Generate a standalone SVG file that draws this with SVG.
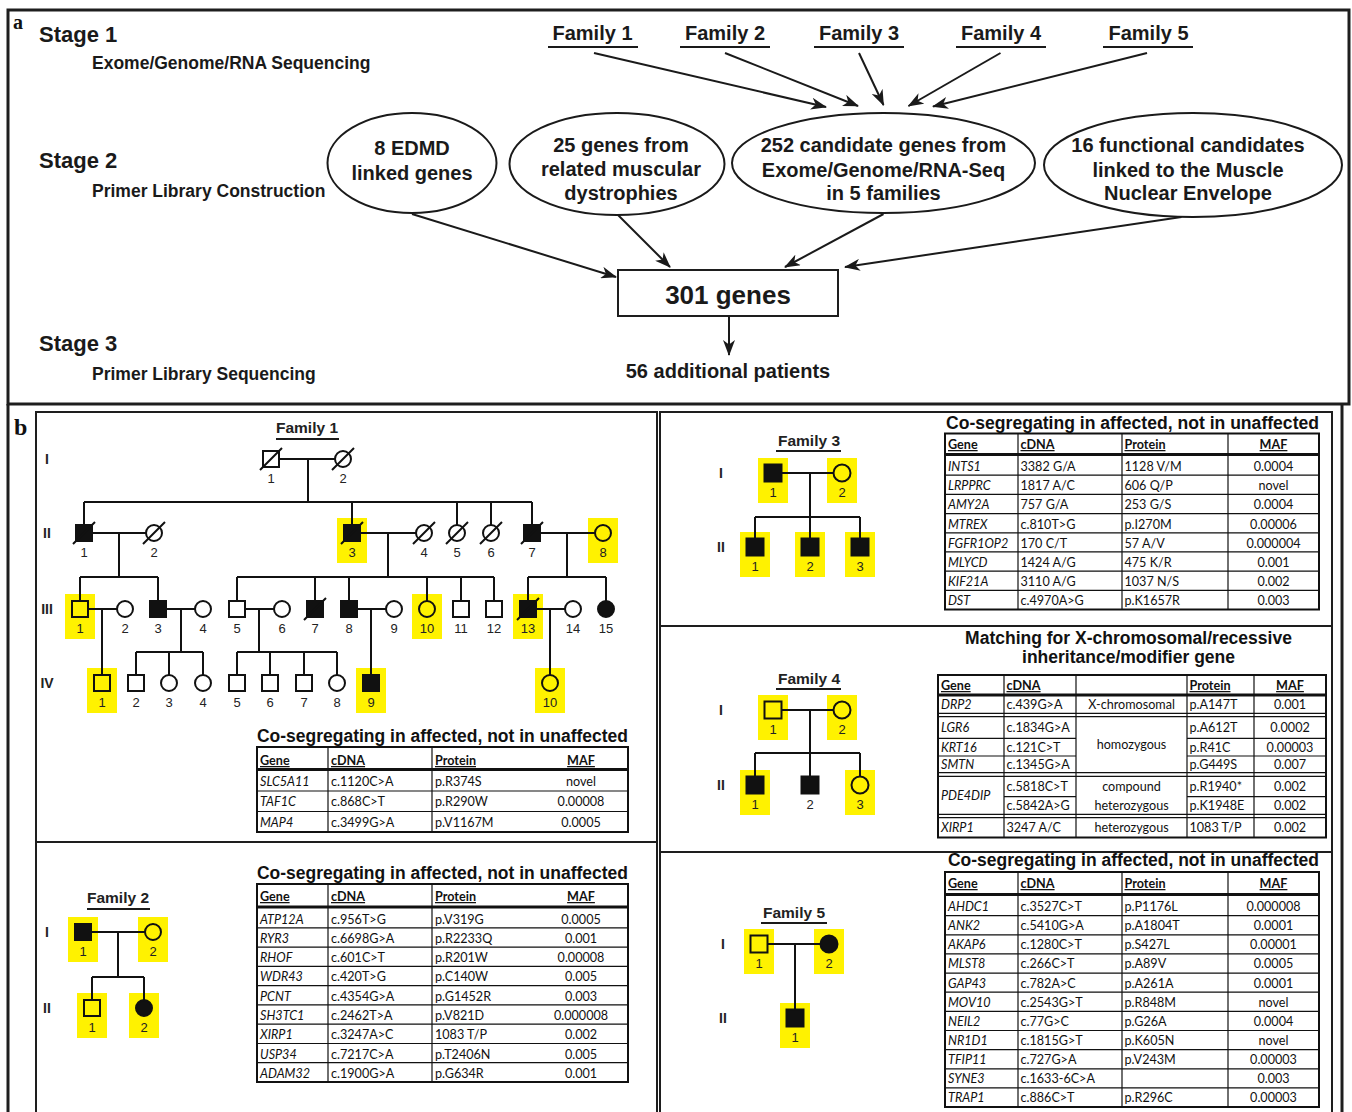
<svg xmlns="http://www.w3.org/2000/svg" width="1352" height="1112" viewBox="0 0 1352 1112">
<defs>
<style>
.frame{fill:none;stroke:#1e1e1e;stroke-width:3}
.box{fill:none;stroke:#1e1e1e;stroke-width:2}
.hd{font-family:"Liberation Sans",Arial,sans-serif;font-weight:bold;fill:#1a1a1a}
.ell{fill:#fff;stroke:#1a1a1a;stroke-width:2}
.arr{stroke:#1a1a1a;stroke-width:2;fill:none;marker-end:url(#ah)}
.ul{stroke:#1a1a1a;stroke-width:2}
.pl{stroke:#111;stroke-width:2;fill:none}
.sym{stroke:#111;stroke-width:2;fill:none}
.aff{stroke:#111;stroke-width:2;fill:#111}
.hl{fill:#FFF200}
.num{font-family:"Liberation Sans",Arial,sans-serif;font-size:13px;text-anchor:middle;fill:#222}
.gen{font-family:"Liberation Sans",Arial,sans-serif;font-weight:bold;font-size:14px;text-anchor:middle;fill:#222}
.fam{font-family:"Liberation Sans",Arial,sans-serif;font-weight:bold;font-size:15.5px;text-anchor:middle;fill:#222}
.ttl{font-family:"Liberation Sans",Arial,sans-serif;font-weight:bold;font-size:17.5px;fill:#111}
.tb{fill:none;stroke:#111;stroke-width:2}
.tl{stroke:#111;stroke-width:1.2;fill:none}
.tt{stroke:#111;stroke-width:3;fill:none}
.td{font-family:Lato,"Liberation Sans",sans-serif;font-size:12.6px;fill:#111}
.gi{font-style:italic}
.th{font-family:Lato,"Liberation Sans",sans-serif;font-size:12.6px;font-weight:bold;text-decoration:underline;fill:#111}
.c{text-anchor:middle}
</style>
<marker id="ah" viewBox="0 0 16 12" refX="15" refY="6" markerWidth="16" markerHeight="12" markerUnits="userSpaceOnUse" orient="auto"><path d="M0,0 L16,6 L0,12 L4.5,6 z" fill="#1a1a1a"/></marker>
</defs>
<rect width="1352" height="1112" fill="#fff"/>

<!-- ===== Panel a ===== -->
<g id="panel-a">
<rect class="frame" x="8" y="10" width="1341" height="394"/>
<text x="13" y="29" font-family="Liberation Serif,serif" font-weight="bold" font-size="20" fill="#111">a</text>
<text class="hd" x="39" y="41.5" font-size="22">Stage 1</text>
<text class="hd" x="92" y="69" font-size="17.5">Exome/Genome/RNA Sequencing</text>
<text class="hd" x="39" y="168" font-size="22">Stage 2</text>
<text class="hd" x="92" y="197" font-size="17.5">Primer Library Construction</text>
<text class="hd" x="39" y="351" font-size="22">Stage 3</text>
<text class="hd" x="92" y="380" font-size="17.5">Primer Library Sequencing</text>
</g>

<g id="a-family1"><text class="hd" x="592.5" y="40" font-size="20" text-anchor="middle">Family 1</text><line class="ul" x1="548" y1="47" x2="638" y2="47"/></g>
<g id="a-family2"><text class="hd" x="725" y="40" font-size="20" text-anchor="middle">Family 2</text><line class="ul" x1="680" y1="47" x2="770" y2="47"/></g>
<g id="a-family3"><text class="hd" x="859" y="40" font-size="20" text-anchor="middle">Family 3</text><line class="ul" x1="814" y1="47" x2="904" y2="47"/></g>
<g id="a-family4"><text class="hd" x="1001" y="40" font-size="20" text-anchor="middle">Family 4</text><line class="ul" x1="956" y1="47" x2="1046" y2="47"/></g>
<g id="a-family5"><text class="hd" x="1148.5" y="40" font-size="20" text-anchor="middle">Family 5</text><line class="ul" x1="1103" y1="47" x2="1193" y2="47"/></g>

<g id="a-edmd"><ellipse class="ell" cx="412" cy="163" rx="84.5" ry="50"/>
<text class="hd" font-size="20" text-anchor="middle"><tspan x="412" y="155">8 EDMD</tspan><tspan x="412" y="180">linked genes</tspan></text></g>
<g id="a-related"><ellipse class="ell" cx="617" cy="164" rx="107.5" ry="51"/>
<text class="hd" font-size="20" text-anchor="middle"><tspan x="621" y="152">25 genes from</tspan><tspan x="621" y="176">related muscular</tspan><tspan x="621" y="200">dystrophies</tspan></text></g>
<g id="a-candidates"><ellipse class="ell" cx="883.5" cy="163" rx="151.5" ry="50"/>
<text class="hd" font-size="20" text-anchor="middle"><tspan x="883.5" y="152">252 candidate genes from</tspan><tspan x="883.5" y="177">Exome/Genome/RNA-Seq</tspan><tspan x="883.5" y="200">in 5 families</tspan></text></g>
<g id="a-functional"><ellipse class="ell" cx="1193" cy="165" rx="149" ry="52"/>
<text class="hd" font-size="20" text-anchor="middle"><tspan x="1188" y="152">16 functional candidates</tspan><tspan x="1188" y="177">linked to the Muscle</tspan><tspan x="1188" y="200">Nuclear Envelope</tspan></text></g>
<g id="a-301"><rect class="box" x="618" y="270" width="220" height="46" fill="#fff"/>
<text class="hd" x="728" y="304" font-size="26" text-anchor="middle">301 genes</text></g>
<g id="a-patients"><text class="hd" x="728" y="378" font-size="20" text-anchor="middle">56 additional patients</text></g>

<g id="a-connectors">
<line class="arr" x1="594" y1="53" x2="826" y2="107"/>
<line class="arr" x1="725" y1="53" x2="858" y2="106"/>
<line class="arr" x1="859" y1="53" x2="883.5" y2="105"/>
<line class="arr" x1="1000.5" y1="53" x2="908.5" y2="106"/>
<line class="arr" x1="1147" y1="53" x2="933" y2="106.5"/>
<line class="arr" x1="412" y1="214" x2="616" y2="277"/>
<line class="arr" x1="618" y1="215" x2="670" y2="267"/>
<line class="arr" x1="883.5" y1="214" x2="785" y2="267"/>
<line class="arr" x1="1181.5" y1="217" x2="845" y2="267"/>
<line class="arr" x1="729" y1="316" x2="729" y2="355"/>
</g>

<!-- ===== Panel b ===== -->
<g id="panel-b">
<path class="frame" d="M8,404 V1114 M1342,404 V1114"/>
<text x="14" y="435" font-family="Liberation Serif,serif" font-weight="bold" font-size="24" fill="#111">b</text>
<rect class="box" x="36" y="412" width="621" height="430"/>
<rect class="box" x="36" y="842" width="621" height="272"/>
<rect class="box" x="660" y="412" width="672" height="214"/>
<rect class="box" x="660" y="626" width="672" height="226"/>
<rect class="box" x="660" y="852" width="672" height="262"/>
</g>

<!-- Family 1 pedigree -->
<g id="family1">
<text class="fam" x="307" y="433">Family 1</text><line class="ul" x1="276" y1="439" x2="339" y2="439"/>
<text class="gen" x="47" y="464">I</text><text class="gen" x="47" y="538">II</text><text class="gen" x="47" y="614">III</text><text class="gen" x="47" y="688">IV</text>
<g class="hl">
<rect x="337" y="518" width="30" height="45"/><rect x="588" y="518" width="30" height="45"/>
<rect x="65" y="594" width="30" height="45"/><rect x="412" y="594" width="30" height="45"/><rect x="513" y="594" width="30" height="45"/>
<rect x="87" y="668" width="30" height="45"/><rect x="356" y="668" width="30" height="45"/><rect x="535" y="668" width="30" height="45"/>
</g>
<path class="pl" d="M279,459 H335 M308,459 V502 M84,502 H532 M84,502 V525 M352,502 V525 M457,502 V525 M491,502 V525 M532,502 V525
M92,533 H146 M119,533 V577 M80,577 H158 M80,577 V601 M158,577 V601
M360,533 H416 M388,533 V577 M237,577 H494 M237,577 V601 M315,577 V601 M349,577 V601 M427,577 V601 M461,577 V601 M494,577 V601
M540,533 H595 M567,533 V577 M528,577 H606 M528,577 V601 M606,577 V601
M88,609 H117 M102,609 V675
M166,609 H195 M181,609 V652 M136,652 H203 M136,652 V675 M169,652 V675 M203,652 V675
M245,609 H274 M259,609 V652 M237,652 H337 M237,652 V675 M270,652 V675 M304,652 V675 M337,652 V675
M357,609 H386 M371,609 V675
M536,609 H565 M550,609 V675"/>
<rect class="sym" x="263" y="451" width="16" height="16"/><circle class="sym" cx="343" cy="459" r="8"/>
<rect class="aff" x="76" y="525" width="16" height="16"/><circle class="sym" cx="154" cy="533" r="8"/>
<rect class="aff" x="344" y="525" width="16" height="16"/><circle class="sym" cx="424" cy="533" r="8"/><circle class="sym" cx="457" cy="533" r="8"/><circle class="sym" cx="491" cy="533" r="8"/>
<rect class="aff" x="524" y="525" width="16" height="16"/><circle class="sym" cx="603" cy="533" r="8"/>
<rect class="sym" x="72" y="601" width="16" height="16"/><circle class="sym" cx="125" cy="609" r="8"/>
<rect class="aff" x="150" y="601" width="16" height="16"/><circle class="sym" cx="203" cy="609" r="8"/>
<rect class="sym" x="229" y="601" width="16" height="16"/><circle class="sym" cx="282" cy="609" r="8"/>
<rect class="aff" x="307" y="601" width="16" height="16"/><rect class="aff" x="341" y="601" width="16" height="16"/><circle class="sym" cx="394" cy="609" r="8"/>
<circle class="sym" cx="427" cy="609" r="8"/><rect class="sym" x="453" y="601" width="16" height="16"/><rect class="sym" x="486" y="601" width="16" height="16"/>
<rect class="aff" x="520" y="601" width="16" height="16"/><circle class="sym" cx="573" cy="609" r="8"/><circle class="aff" cx="606" cy="609" r="8"/>
<rect class="sym" x="94" y="675" width="16" height="16"/><rect class="sym" x="128" y="675" width="16" height="16"/><circle class="sym" cx="169" cy="683" r="8"/><circle class="sym" cx="203" cy="683" r="8"/>
<rect class="sym" x="229" y="675" width="16" height="16"/><rect class="sym" x="262" y="675" width="16" height="16"/><rect class="sym" x="296" y="675" width="16" height="16"/><circle class="sym" cx="337" cy="683" r="8"/>
<rect class="aff" x="363" y="675" width="16" height="16"/><circle class="sym" cx="550" cy="683" r="8"/>
<path class="pl" d="M260,470 L282,448 M332,470 L354,448 M73,544 L95,522 M143,544 L165,522 M341,544 L363,522 M413,544 L435,522 M446,544 L468,522 M480,544 L502,522 M521,544 L543,522 M304,620 L326,598 M517,620 L539,598"/>
<g class="num">
<text x="271" y="483">1</text><text x="343" y="483">2</text>
<text x="84" y="557">1</text><text x="154" y="557">2</text><text x="352" y="557">3</text><text x="424" y="557">4</text><text x="457" y="557">5</text><text x="491" y="557">6</text><text x="532" y="557">7</text><text x="603" y="557">8</text>
<text x="80" y="633">1</text><text x="125" y="633">2</text><text x="158" y="633">3</text><text x="203" y="633">4</text><text x="237" y="633">5</text><text x="282" y="633">6</text><text x="315" y="633">7</text><text x="349" y="633">8</text><text x="394" y="633">9</text><text x="427" y="633">10</text><text x="461" y="633">11</text><text x="494" y="633">12</text><text x="528" y="633">13</text><text x="573" y="633">14</text><text x="606" y="633">15</text>
<text x="102" y="707">1</text><text x="136" y="707">2</text><text x="169" y="707">3</text><text x="203" y="707">4</text><text x="237" y="707">5</text><text x="270" y="707">6</text><text x="304" y="707">7</text><text x="337" y="707">8</text><text x="371" y="707">9</text><text x="550" y="707">10</text>
</g>
</g>

<g id="table1">
<text class="ttl" x="257" y="742" textLength="371" lengthAdjust="spacingAndGlyphs">Co-segregating in affected, not in unaffected</text>
<rect class="tb" x="257" y="747" width="371" height="85"/>
<path class="tt" d="M257,769.5 H628"/>
<path class="tl" d="M257,791 H628 M257,811.5 H628 M328,747 V832 M432,747 V832"/>
<text class="th" x="260" y="765">Gene</text><text class="th" x="331" y="765">cDNA</text><text class="th" x="435" y="765">Protein</text><text class="th c" x="581" y="765">MAF</text>
<g class="td">
<text class="gi" x="260" y="785.5">SLC5A11</text><text x="331" y="785.5">c.1120C&gt;A</text><text x="435" y="785.5">p.R374S</text><text class="c" x="581" y="785.5">novel</text>
<text class="gi" x="260" y="806">TAF1C</text><text x="331" y="806">c.868C&gt;T</text><text x="435" y="806">p.R290W</text><text class="c" x="581" y="806">0.00008</text>
<text class="gi" x="260" y="826.5">MAP4</text><text x="331" y="826.5">c.3499G&gt;A</text><text x="435" y="826.5">p.V1167M</text><text class="c" x="581" y="826.5">0.0005</text>
</g>
</g>

<!-- Family 2 -->
<g id="family2">
<text class="fam" x="118" y="903">Family 2</text><line class="ul" x1="87" y1="909" x2="150" y2="909"/>
<text class="gen" x="47" y="937">I</text><text class="gen" x="47" y="1013">II</text>
<g class="hl"><rect x="68" y="917" width="30" height="45"/><rect x="138" y="917" width="30" height="45"/><rect x="77" y="993" width="30" height="45"/><rect x="129" y="993" width="30" height="45"/></g>
<path class="pl" d="M91,932 H145 M118,932 V977 M92,977 H144 M92,977 V1000 M144,977 V1000"/>
<rect class="aff" x="75" y="924" width="16" height="16"/><circle class="sym" cx="153" cy="932" r="8"/>
<rect class="sym" x="84" y="1000" width="16" height="16"/><circle class="aff" cx="144" cy="1008" r="8"/>
<g class="num"><text x="83" y="956">1</text><text x="153" y="956">2</text><text x="92" y="1032">1</text><text x="144" y="1032">2</text></g>
</g>

<g id="table2">
<text class="ttl" x="257" y="879" textLength="371" lengthAdjust="spacingAndGlyphs">Co-segregating in affected, not in unaffected</text>
<rect class="tb" x="257" y="884" width="371" height="198"/>
<path class="tt" d="M257,907 H628"/>
<path class="tl" d="M257,927.8 H628 M257,947.1 H628 M257,966.3 H628 M257,985.6 H628 M257,1004.9 H628 M257,1024.2 H628 M257,1043.5 H628 M257,1062.7 H628 M328,884 V1082 M432,884 V1082"/>
<text class="th" x="260" y="901">Gene</text><text class="th" x="331" y="901">cDNA</text><text class="th" x="435" y="901">Protein</text><text class="th c" x="581" y="901">MAF</text>
<g class="td">
<text class="gi" x="260" y="923.5">ATP12A</text><text x="331" y="923.5">c.956T&gt;G</text><text x="435" y="923.5">p.V319G</text><text class="c" x="581" y="923.5">0.0005</text>
<text class="gi" x="260" y="942.8">RYR3</text><text x="331" y="942.8">c.6698G&gt;A</text><text x="435" y="942.8">p.R2233Q</text><text class="c" x="581" y="942.8">0.001</text>
<text class="gi" x="260" y="962.1">RHOF</text><text x="331" y="962.1">c.601C&gt;T</text><text x="435" y="962.1">p.R201W</text><text class="c" x="581" y="962.1">0.00008</text>
<text class="gi" x="260" y="981.3">WDR43</text><text x="331" y="981.3">c.420T&gt;G</text><text x="435" y="981.3">p.C140W</text><text class="c" x="581" y="981.3">0.005</text>
<text class="gi" x="260" y="1000.6">PCNT</text><text x="331" y="1000.6">c.4354G&gt;A</text><text x="435" y="1000.6">p.G1452R</text><text class="c" x="581" y="1000.6">0.003</text>
<text class="gi" x="260" y="1019.9">SH3TC1</text><text x="331" y="1019.9">c.2462T&gt;A</text><text x="435" y="1019.9">p.V821D</text><text class="c" x="581" y="1019.9">0.000008</text>
<text class="gi" x="260" y="1039.2">XIRP1</text><text x="331" y="1039.2">c.3247A&gt;C</text><text x="435" y="1039.2">1083 T/P</text><text class="c" x="581" y="1039.2">0.002</text>
<text class="gi" x="260" y="1058.5">USP34</text><text x="331" y="1058.5">c.7217C&gt;A</text><text x="435" y="1058.5">p.T2406N</text><text class="c" x="581" y="1058.5">0.005</text>
<text class="gi" x="260" y="1077.7">ADAM32</text><text x="331" y="1077.7">c.1900G&gt;A</text><text x="435" y="1077.7">p.G634R</text><text class="c" x="581" y="1077.7">0.001</text>
</g>
</g>

<!-- Family 3 -->
<g id="family3">
<text class="fam" x="809" y="446">Family 3</text><line class="ul" x1="776" y1="451" x2="841" y2="451"/>
<text class="gen" x="721" y="478">I</text><text class="gen" x="721" y="552">II</text>
<g class="hl"><rect x="758" y="458" width="30" height="45"/><rect x="827" y="458" width="30" height="45"/><rect x="740" y="532" width="30" height="45"/><rect x="795" y="532" width="30" height="45"/><rect x="845" y="532" width="30" height="45"/></g>
<path class="pl" d="M781.5,473 H833.5 M810,473 V517 M755,517 H860 M755,517 V538.5 M810,517 V538.5 M860,517 V538.5"/>
<rect class="aff" x="764.5" y="464.5" width="17" height="17"/><circle class="sym" cx="842" cy="473" r="8.5"/>
<rect class="aff" x="746.5" y="538.5" width="17" height="17"/><rect class="aff" x="801.5" y="538.5" width="17" height="17"/><rect class="aff" x="851.5" y="538.5" width="17" height="17"/>
<g class="num"><text x="773" y="497">1</text><text x="842" y="497">2</text><text x="755" y="571">1</text><text x="810" y="571">2</text><text x="860" y="571">3</text></g>
</g>

<g id="table3">
<text class="ttl" x="946" y="428.5" textLength="373" lengthAdjust="spacingAndGlyphs">Co-segregating in affected, not in unaffected</text>
<rect class="tb" x="945" y="433.5" width="374" height="176"/>
<path class="tt" d="M945,454.5 H1319"/>
<path class="tl" d="M945,475.2 H1319 M945,494.4 H1319 M945,513.6 H1319 M945,532.8 H1319 M945,551.9 H1319 M945,571.1 H1319 M945,590.3 H1319 M1018,433.5 V609.5 M1122,433.5 V609.5 M1228,433.5 V609.5"/>
<text class="th" x="948" y="449">Gene</text><text class="th" x="1020.5" y="449">cDNA</text><text class="th" x="1124.5" y="449">Protein</text><text class="th c" x="1273.5" y="449">MAF</text>
<g class="td">
<text class="gi" x="948" y="471">INTS1</text><text x="1020.5" y="471">3382 G/A</text><text x="1124.5" y="471">1128 V/M</text><text class="c" x="1273.5" y="471">0.0004</text>
<text class="gi" x="948" y="490.2">LRPPRC</text><text x="1020.5" y="490.2">1817 A/C</text><text x="1124.5" y="490.2">606 Q/P</text><text class="c" x="1273.5" y="490.2">novel</text>
<text class="gi" x="948" y="509.4">AMY2A</text><text x="1020.5" y="509.4">757 G/A</text><text x="1124.5" y="509.4">253 G/S</text><text class="c" x="1273.5" y="509.4">0.0004</text>
<text class="gi" x="948" y="528.6">MTREX</text><text x="1020.5" y="528.6">c.810T&gt;G</text><text x="1124.5" y="528.6">p.I270M</text><text class="c" x="1273.5" y="528.6">0.00006</text>
<text class="gi" x="948" y="547.8">FGFR1OP2</text><text x="1020.5" y="547.8">170 C/T</text><text x="1124.5" y="547.8">57 A/V</text><text class="c" x="1273.5" y="547.8">0.000004</text>
<text class="gi" x="948" y="567">MLYCD</text><text x="1020.5" y="567">1424 A/G</text><text x="1124.5" y="567">475 K/R</text><text class="c" x="1273.5" y="567">0.001</text>
<text class="gi" x="948" y="586.2">KIF21A</text><text x="1020.5" y="586.2">3110 A/G</text><text x="1124.5" y="586.2">1037 N/S</text><text class="c" x="1273.5" y="586.2">0.002</text>
<text class="gi" x="948" y="605.4">DST</text><text x="1020.5" y="605.4">c.4970A&gt;G</text><text x="1124.5" y="605.4">p.K1657R</text><text class="c" x="1273.5" y="605.4">0.003</text>
</g>
</g>

<!-- Family 4 -->
<g id="family4">
<text class="fam" x="809" y="684">Family 4</text><line class="ul" x1="776" y1="689" x2="841" y2="689"/>
<text class="gen" x="721" y="715">I</text><text class="gen" x="721" y="790">II</text>
<g class="hl"><rect x="758" y="695" width="30" height="45"/><rect x="827" y="695" width="30" height="45"/><rect x="740" y="770" width="30" height="45"/><rect x="845" y="770" width="30" height="45"/></g>
<path class="pl" d="M781.5,710 H833.5 M810,710 V753 M755,753 H860 M755,753 V776.5 M810,753 V776.5 M860,753 V776.5"/>
<rect class="sym" x="764.5" y="701.5" width="17" height="17"/><circle class="sym" cx="842" cy="710" r="8.5"/>
<rect class="aff" x="746.5" y="776.5" width="17" height="17"/><rect class="aff" x="801.5" y="776.5" width="17" height="17"/><circle class="sym" cx="860" cy="785" r="8.5"/>
<g class="num"><text x="773" y="734">1</text><text x="842" y="734">2</text><text x="755" y="809">1</text><text x="810" y="809">2</text><text x="860" y="809">3</text></g>
</g>

<g id="table4">
<text class="ttl" text-anchor="middle"><tspan x="1128.5" y="643.5">Matching for X-chromosomal/recessive</tspan><tspan x="1128.5" y="662.5">inheritance/modifier gene</tspan></text>
<rect class="tb" x="938" y="675" width="388" height="162.5"/>
<path class="tt" d="M938,695 H1326"/>
<path class="tl" d="M938,713.3 H1326 M938,716.7 H1326 M938,772.7 H1326 M938,776.3 H1326 M938,814.3 H1326 M938,817.7 H1326
M938,738.3 H1076 M1187,738.3 H1326 M938,756 H1076 M1187,756 H1326 M1004,796.7 H1076 M1187,796.7 H1326
M1004,675 V837.5 M1076,675 V837.5 M1187,675 V837.5 M1254,675 V837.5"/>
<text class="th" x="941" y="690">Gene</text><text class="th" x="1006.5" y="690">cDNA</text><text class="th" x="1189.5" y="690">Protein</text><text class="th c" x="1290" y="690">MAF</text>
<g class="td">
<text class="gi" x="941" y="708.5">DRP2</text><text x="1006.5" y="708.5">c.439G&gt;A</text><text class="c" x="1131.5" y="708.5">X-chromosomal</text><text x="1189.5" y="708.5">p.A147T</text><text class="c" x="1290" y="708.5">0.001</text>
<text class="gi" x="941" y="732">LGR6</text><text x="1006.5" y="732">c.1834G&gt;A</text><text x="1189.5" y="732">p.A612T</text><text class="c" x="1290" y="732">0.0002</text>
<text class="gi" x="941" y="751.5">KRT16</text><text x="1006.5" y="751.5">c.121C&gt;T</text><text class="c" x="1131.5" y="749">homozygous</text><text x="1189.5" y="751.5">p.R41C</text><text class="c" x="1290" y="751.5">0.00003</text>
<text class="gi" x="941" y="768.6">SMTN</text><text x="1006.5" y="768.6">c.1345G&gt;A</text><text x="1189.5" y="768.6">p.G449S</text><text class="c" x="1290" y="768.6">0.007</text>
<text class="gi" x="941" y="800">PDE4DIP</text><text x="1006.5" y="791">c.5818C&gt;T</text><text class="c" x="1131.5" y="791">compound</text><text x="1189.5" y="791">p.R1940*</text><text class="c" x="1290" y="791">0.002</text>
<text x="1006.5" y="809.8">c.5842A&gt;G</text><text class="c" x="1131.5" y="809.8">heterozygous</text><text x="1189.5" y="809.8">p.K1948E</text><text class="c" x="1290" y="809.8">0.002</text>
<text class="gi" x="941" y="831.8">XIRP1</text><text x="1006.5" y="831.8">3247 A/C</text><text class="c" x="1131.5" y="831.8">heterozygous</text><text x="1189.5" y="831.8">1083 T/P</text><text class="c" x="1290" y="831.8">0.002</text>
</g>
</g>

<!-- Family 5 -->
<g id="family5">
<text class="fam" x="794" y="918">Family 5</text><line class="ul" x1="761" y1="923" x2="827" y2="923"/>
<text class="gen" x="723" y="949">I</text><text class="gen" x="723" y="1023">II</text>
<g class="hl"><rect x="744" y="929" width="30" height="45"/><rect x="814" y="929" width="30" height="45"/><rect x="780" y="1003" width="30" height="45"/></g>
<path class="pl" d="M767.5,944 H820.5 M795,944 V1009.5"/>
<rect class="sym" x="750.5" y="935.5" width="17" height="17"/><circle class="aff" cx="829" cy="944" r="8.5"/>
<rect class="aff" x="786.5" y="1009.5" width="17" height="17"/>
<g class="num"><text x="759" y="968">1</text><text x="829" y="968">2</text><text x="795" y="1042">1</text></g>
</g>

<g id="table5">
<text class="ttl" x="948" y="866" textLength="371" lengthAdjust="spacingAndGlyphs">Co-segregating in affected, not in unaffected</text>
<rect class="tb" x="945" y="872" width="374" height="235"/>
<path class="tt" d="M945,894.5 H1319"/>
<path class="tl" d="M945,915.6 H1319 M945,934.8 H1319 M945,953.9 H1319 M945,973.1 H1319 M945,992.2 H1319 M945,1011.3 H1319 M945,1030.5 H1319 M945,1049.6 H1319 M945,1068.8 H1319 M945,1087.9 H1319 M1018,872 V1107 M1122,872 V1107 M1228,872 V1107"/>
<text class="th" x="948" y="888">Gene</text><text class="th" x="1020.5" y="888">cDNA</text><text class="th" x="1124.5" y="888">Protein</text><text class="th c" x="1273.5" y="888">MAF</text>
<g class="td">
<text class="gi" x="948" y="911">AHDC1</text><text x="1020.5" y="911">c.3527C&gt;T</text><text x="1124.5" y="911">p.P1176L</text><text class="c" x="1273.5" y="911">0.000008</text>
<text class="gi" x="948" y="930.1">ANK2</text><text x="1020.5" y="930.1">c.5410G&gt;A</text><text x="1124.5" y="930.1">p.A1804T</text><text class="c" x="1273.5" y="930.1">0.0001</text>
<text class="gi" x="948" y="949.3">AKAP6</text><text x="1020.5" y="949.3">c.1280C&gt;T</text><text x="1124.5" y="949.3">p.S427L</text><text class="c" x="1273.5" y="949.3">0.00001</text>
<text class="gi" x="948" y="968.4">MLST8</text><text x="1020.5" y="968.4">c.266C&gt;T</text><text x="1124.5" y="968.4">p.A89V</text><text class="c" x="1273.5" y="968.4">0.0005</text>
<text class="gi" x="948" y="987.6">GAP43</text><text x="1020.5" y="987.6">c.782A&gt;C</text><text x="1124.5" y="987.6">p.A261A</text><text class="c" x="1273.5" y="987.6">0.0001</text>
<text class="gi" x="948" y="1006.7">MOV10</text><text x="1020.5" y="1006.7">c.2543G&gt;T</text><text x="1124.5" y="1006.7">p.R848M</text><text class="c" x="1273.5" y="1006.7">novel</text>
<text class="gi" x="948" y="1025.8">NEIL2</text><text x="1020.5" y="1025.8">c.77G&gt;C</text><text x="1124.5" y="1025.8">p.G26A</text><text class="c" x="1273.5" y="1025.8">0.0004</text>
<text class="gi" x="948" y="1045">NR1D1</text><text x="1020.5" y="1045">c.1815G&gt;T</text><text x="1124.5" y="1045">p.K605N</text><text class="c" x="1273.5" y="1045">novel</text>
<text class="gi" x="948" y="1064.1">TFIP11</text><text x="1020.5" y="1064.1">c.727G&gt;A</text><text x="1124.5" y="1064.1">p.V243M</text><text class="c" x="1273.5" y="1064.1">0.00003</text>
<text class="gi" x="948" y="1083.3">SYNE3</text><text x="1020.5" y="1083.3">c.1633-6C&gt;A</text><text class="c" x="1273.5" y="1083.3">0.003</text>
<text class="gi" x="948" y="1102.4">TRAP1</text><text x="1020.5" y="1102.4">c.886C&gt;T</text><text x="1124.5" y="1102.4">p.R296C</text><text class="c" x="1273.5" y="1102.4">0.00003</text>
</g>
</g>
</svg>
